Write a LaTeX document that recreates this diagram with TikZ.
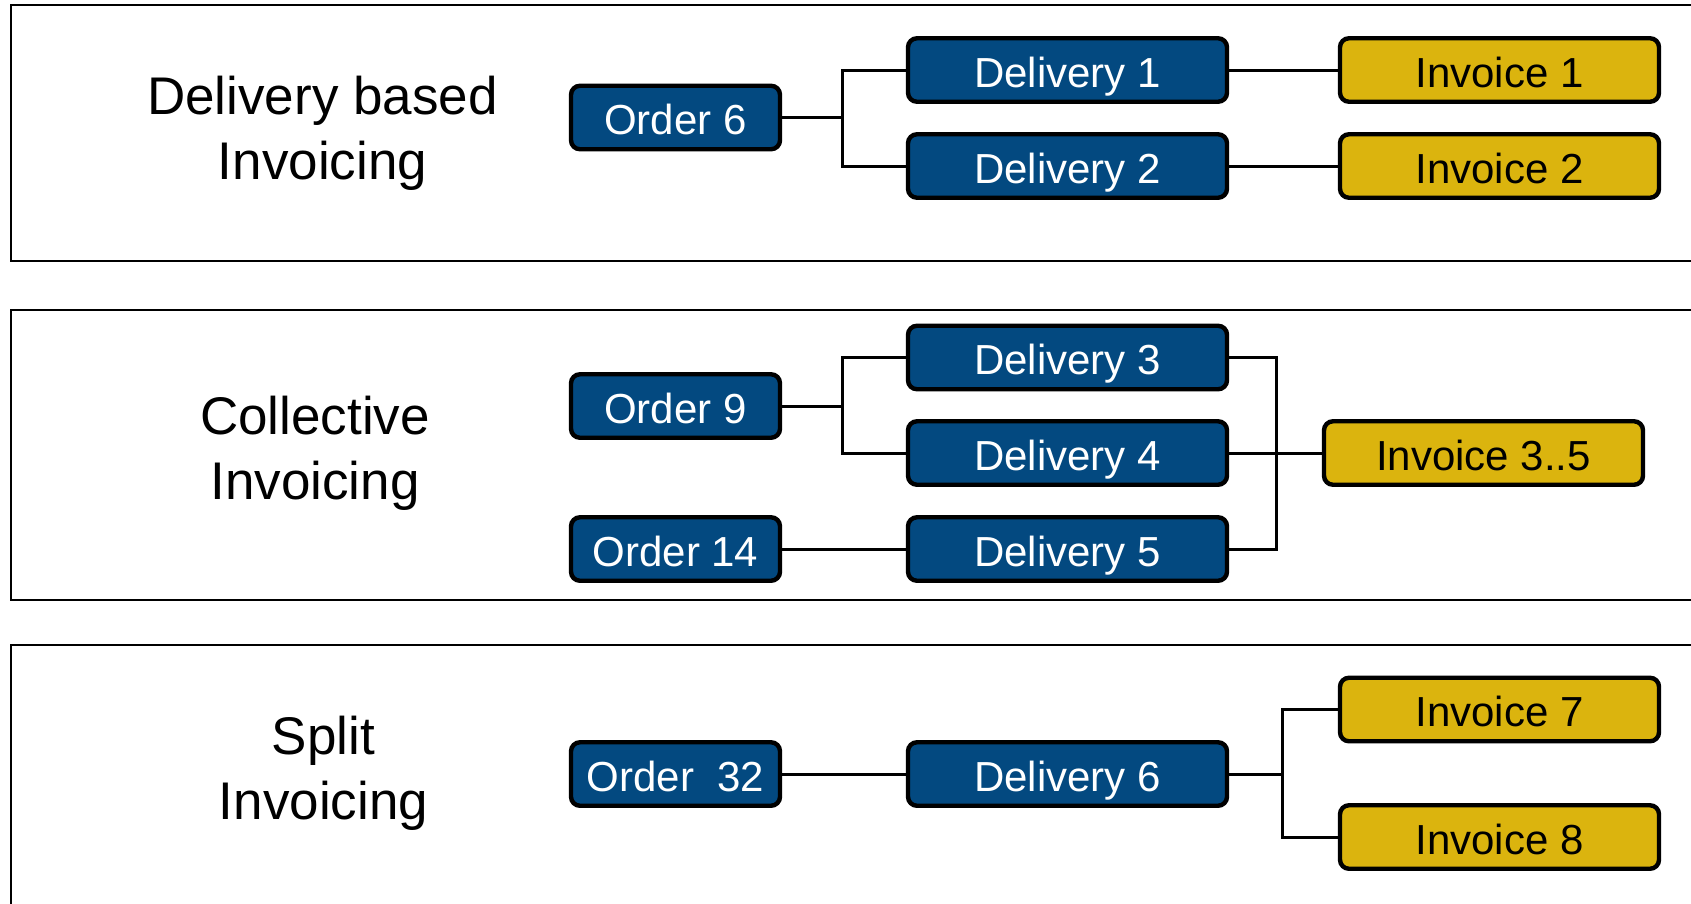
\documentclass[tikz,border=0pt]{standalone}
\usepackage{fontspec}
\setmainfont{Liberation Sans}
\definecolor{docblue}{RGB}{3,73,128}
\definecolor{docgold}{RGB}{219,180,14}
\begin{document}
\begin{tikzpicture}[x=1pt,y=-1pt,
  panel/.style={draw=black,line width=2pt},
  heading/.style={align=center,font=\fontsize{53}{65}\selectfont},
  doc/.style={draw=black,line width=4.4pt,rounded corners=9pt,
    minimum height=63.5pt,inner sep=0pt,text height=34pt,text depth=0pt,
    font=\fontsize{42}{50}\selectfont},
  orderbox/.style={doc,fill=docblue,text=white,minimum width=209pt},
  deliverybox/.style={doc,fill=docblue,text=white,minimum width=319pt},
  invoicebox/.style={doc,fill=docgold,text=black,minimum width=319pt},
  link/.style={draw=black,line width=3pt}]
\useasboundingbox (0,0) rectangle (1691,903);
\clip (0,0) rectangle (1691,903);
\fill[white] (0,0) rectangle (1691,903);

% three panels, running past the right and bottom edges
\draw[panel] (10.8,5.4) rectangle (1730,261);
\draw[panel] (10.8,309.5) rectangle (1730,599.6);
\draw[panel] (10.8,645) rectangle (1730,940);

% delivery based invoicing
\node[heading] (h1) at (322.5,133) {Delivery based\\Invoicing};
\node[orderbox] (o6) at (675.5,117.5) {Order 6};
\node[deliverybox] (d1) at (1067.5,70) {Delivery 1};
\node[deliverybox] (d2) at (1067.5,166) {Delivery 2};
\node[invoicebox] (i1) at (1499.5,70) {Invoice 1};
\node[invoicebox] (i2) at (1499.5,166) {Invoice 2};
\coordinate (j1) at (842,117.5);
\draw[link] (o6.east) -- (j1);
\draw[link] (d1.west) -| (j1) |- (d2.west);
\draw[link] (d1.east) -- (i1.west);
\draw[link] (d2.east) -- (i2.west);

% collective invoicing
\node[heading] (h2) at (315,453) {Collective\\Invoicing};
\node[orderbox] (o9) at (675.5,406) {Order 9};
\node[orderbox] (o14) at (675.5,549) {Order 14};
\node[deliverybox] (d3) at (1067.5,357.5) {Delivery 3};
\node[deliverybox] (d4) at (1067.5,453) {Delivery 4};
\node[deliverybox] (d5) at (1067.5,549) {Delivery 5};
\node[invoicebox] (i35) at (1483.5,453) {Invoice 3..5};
\coordinate (j2) at (842,406);
\coordinate (j3) at (1276,453);
\draw[link] (o9.east) -- (j2);
\draw[link] (d3.west) -| (j2) |- (d4.west);
\draw[link] (o14.east) -- (d5.west);
\draw[link] (d3.east) -| (j3) |- (d5.east);
\draw[link] (d4.east) -- (i35.west);

% split invoicing
\node[heading] (h3) at (323.5,773.5) {Split\\Invoicing};
\node[orderbox] (o32) at (675.5,774) {Order\ \ 32};
\node[deliverybox] (d6) at (1067.5,774) {Delivery 6};
\node[invoicebox] (i7) at (1499.5,709.5) {Invoice 7};
\node[invoicebox] (i8) at (1499.5,837) {Invoice 8};
\coordinate (j4) at (1282,774);
\draw[link] (o32.east) -- (d6.west);
\draw[link] (d6.east) -- (j4);
\draw[link] (i7.west) -| (j4) |- (i8.west);
\end{tikzpicture}
\end{document}
